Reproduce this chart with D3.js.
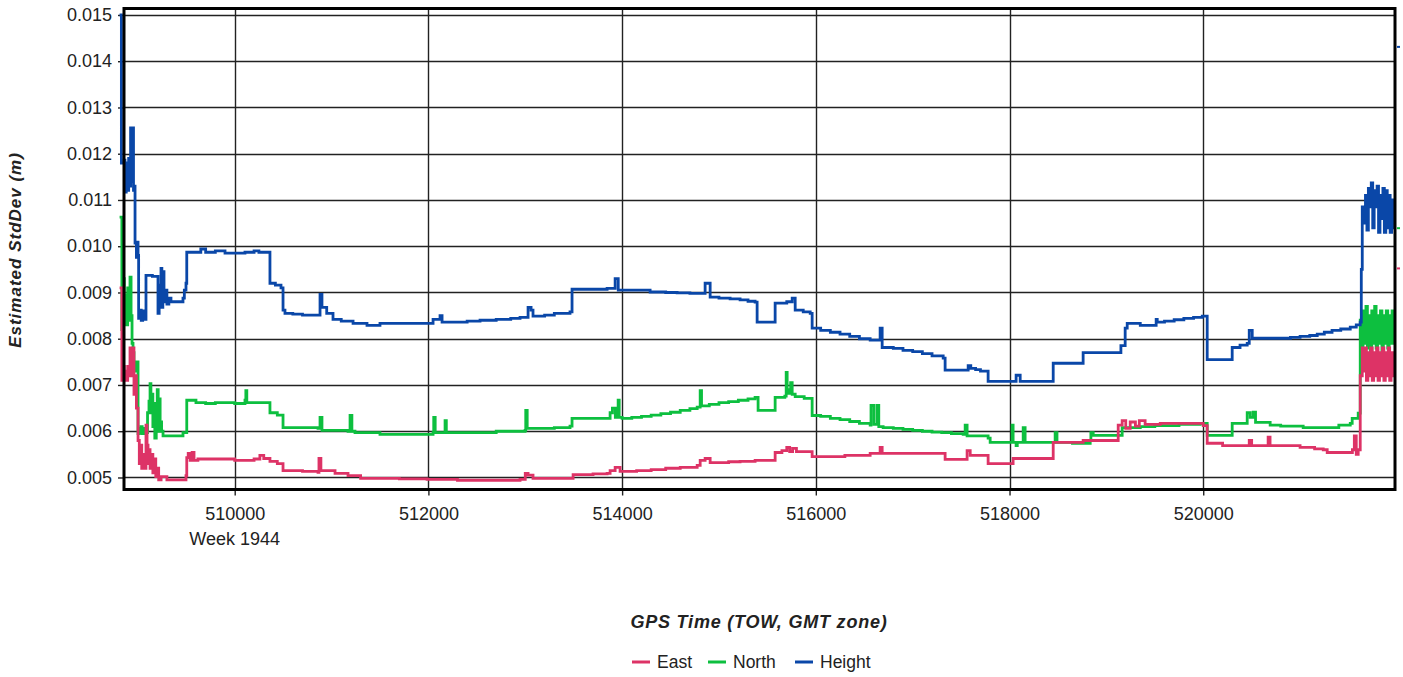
<!DOCTYPE html>
<html>
<head>
<meta charset="utf-8">
<script src="https://cdn.jsdelivr.net/npm/d3@7"></script>
<style>
  body { margin: 0; background: #fff; }
  text { font-family: "Liberation Sans", Arial, sans-serif; fill: #222; }
</style>
</head>
<body>
<svg id="chart" width="1403" height="677"></svg>
<script>
// Tick values
const yTicks = [0.005, 0.006, 0.007, 0.008, 0.009, 0.010, 0.011, 0.012, 0.013, 0.014, 0.015];
const xTicks = [510000, 512000, 514000, 516000, 518000, 520000];
const weekLabel = "Week 1944";
const xTitle = "GPS Time (TOW, GMT zone)";
const yTitle = "Estimated StdDev (m)";

// Estimated standard deviations, [GPS time of week (s), metres]; each value holds until the next epoch
const east = [
  [508826,0.0091],[508835,0.0071],[508850,0.0074],[508860,0.0071],[508870,0.0073],[508880,0.0071],
  [508895,0.0074],[508905,0.0072],[508919,0.0078],[508935,0.0072],[508950,0.0078],[508960,0.0068],
  [508971,0.0072],[508985,0.0065],[509002,0.0058],[509015,0.0053],[509025,0.0057],[509040,0.0052],
  [509055,0.0055],[509075,0.0052],[509084,0.00613],[509095,0.0057],[509105,0.0053],[509115,0.0056],
  [509126,0.0052],[509140,0.0055],[509155,0.0051],[509170,0.0054],[509185,0.00502],[509200,0.0052],
  [509215,0.00495],[509240,0.00502],[509300,0.00495],[509466,0.00495],[509497,0.00504],[509505,0.00543],
  [509520,0.00552],[509540,0.00537],[509560,0.00554],[509580,0.00537],[509620,0.0054],[509800,0.0054],
  [510000,0.00537],[510200,0.0054],[510260,0.00548],[510300,0.00541],[510364,0.00535],[510440,0.0053],
  [510499,0.00515],[510700,0.00513],[510860,0.00511],[510870,0.00541],[510890,0.00515],[511036,0.00509],
  [511170,0.00504],[511300,0.00498],[511700,0.00497],[511986,0.00496],[512300,0.00494],[512946,0.00496],
  [513000,0.00509],[513029,0.00505],[513080,0.00498],[513494,0.00506],[513700,0.00508],[513845,0.00509],
  [513876,0.00515],[513928,0.00522],[513979,0.00513],[514150,0.00515],[514300,0.00517],[514450,0.0052],
  [514600,0.00522],[514775,0.00526],[514806,0.00537],[514857,0.00541],[514909,0.00532],[515100,0.00534],
  [515218,0.00535],[515373,0.00537],[515580,0.00554],[515650,0.00558],[515700,0.00565],[515730,0.00556],
  [515760,0.00563],[515800,0.00556],[515962,0.00545],[516300,0.00548],[516561,0.00552],[516664,0.00565],
  [516685,0.00552],[517335,0.00539],[517562,0.00558],[517594,0.00548],[517779,0.0053],[518037,0.00541],
  [518451,0.00576],[518760,0.0058],[519122,0.00613],[519163,0.00623],[519200,0.00606],[519246,0.0062],
  [519300,0.00611],[519340,0.00623],[519400,0.00615],[519556,0.00617],[520000,0.00612],[520041,0.00574],
  [520200,0.00569],[520475,0.0058],[520500,0.00569],[520670,0.00587],[520690,0.00569],[521000,0.00565],
  [521150,0.00562],[521239,0.0056],[521280,0.00554],[521540,0.0056],[521560,0.0059],[521580,0.0055],
  [521600,0.0056],[521621,0.0072],[521642,0.0078],
  [521655,0.0073],[521670,0.0078],[521685,0.0071],[521700,0.0077],[521715,0.0072],[521730,0.0078],
  [521745,0.0071],[521760,0.0077],[521775,0.0072],[521790,0.0078],[521805,0.0071],[521820,0.0077],
  [521835,0.0072],[521850,0.0078],[521865,0.0071],[521880,0.0077],[521895,0.0072],[521910,0.0078],
  [521925,0.0071],[521940,0.0077],[521962,0.0072],[521975,0.0072]
];

const north = [
  [508826,0.01063],[508835,0.0082],[508850,0.0093],[508860,0.0084],[508870,0.00895],[508880,0.0083],
  [508895,0.0091],[508905,0.0084],[508919,0.00933],[508930,0.0085],[508940,0.0079],[508950,0.0077],
  [508960,0.0075],[508971,0.0073],[508985,0.0075],[509002,0.00595],[509015,0.00606],[509025,0.00597],
  [509033,0.0061],[509045,0.00595],[509060,0.00606],[509084,0.00597],[509100,0.0064],[509115,0.00665],
  [509126,0.00703],[509135,0.0064],[509145,0.0068],[509155,0.0061],[509165,0.0066],[509175,0.00585],
  [509190,0.0064],[509200,0.0069],[509210,0.006],[509220,0.0067],[509230,0.0062],[509245,0.006],
  [509260,0.0059],[509466,0.00597],[509505,0.00667],[509600,0.00662],[509700,0.0066],[509800,0.00662],
  [510000,0.0066],[510106,0.00667],[510115,0.00688],[510125,0.00662],[510364,0.0064],[510440,0.00635],
  [510499,0.00608],[510860,0.00606],[510881,0.0063],[510901,0.00602],[511170,0.006],[511191,0.00634],
  [511210,0.006],[511242,0.00597],[511500,0.00593],[512048,0.00597],[512055,0.0063],[512070,0.00597],
  [512172,0.00623],[512185,0.00597],[512700,0.006],[512998,0.00602],[513005,0.00645],[513020,0.00606],
  [513300,0.00608],[513462,0.00611],[513483,0.00628],[513876,0.0064],[513900,0.0065],[513930,0.0063],
  [513959,0.00667],[513970,0.0063],[514000,0.00628],[514100,0.0063],[514200,0.00632],[514300,0.00635],
  [514400,0.00638],[514500,0.00641],[514600,0.00645],[514700,0.00649],[514775,0.00652],[514806,0.00688],
  [514820,0.00655],[514900,0.00658],[515000,0.00662],[515100,0.00664],[515200,0.00667],[515300,0.0067],
  [515373,0.00673],[515404,0.00645],[515580,0.00673],[515680,0.00676],[515694,0.00727],[515704,0.0069],
  [515720,0.00682],[515740,0.00705],[515756,0.0068],[515787,0.00675],[515880,0.00671],[515962,0.00634],
  [516050,0.00632],[516150,0.00628],[516250,0.00625],[516350,0.00621],[516450,0.00617],[516561,0.00613],
  [516570,0.00656],[516600,0.00615],[516633,0.00656],[516650,0.0061],[516695,0.00608],[516800,0.00606],
  [516900,0.00604],[517000,0.00602],[517100,0.006],[517200,0.00598],[517300,0.00597],[517400,0.00595],
  [517521,0.00593],[517542,0.00613],[517562,0.0059],[517779,0.00585],[517800,0.00576],[518027,0.00613],
  [518037,0.00576],[518068,0.00569],[518080,0.00576],[518141,0.00608],[518161,0.00576],[518471,0.00597],
  [518490,0.00576],[518650,0.00574],[518833,0.0058],[518840,0.00597],[518864,0.00591],[519163,0.00608],
  [519350,0.0061],[519500,0.00612],[519750,0.00615],[519969,0.00617],[520041,0.00591],[520299,0.00617],
  [520454,0.0064],[520485,0.0063],[520516,0.00641],[520540,0.00619],[520691,0.00613],[520800,0.00611],
  [521032,0.00608],[521400,0.00613],[521518,0.00617],[521538,0.00628],[521600,0.00639],[521621,0.0084],
  [521635,0.0078],[521650,0.0086],[521665,0.0079],[521680,0.0087],[521695,0.0078],[521710,0.0085],
  [521725,0.0077],[521740,0.0086],[521755,0.0079],[521770,0.0087],[521785,0.0078],[521800,0.0085],
  [521815,0.0079],[521830,0.0086],[521845,0.0077],[521860,0.0085],[521875,0.0079],[521890,0.0086],
  [521905,0.0078],[521920,0.0085],[521935,0.0079],[521950,0.0086],[521962,0.0079],[521975,0.0079]
];

const heightSd = [
  [508826,0.0150],[508830,0.0118],[508860,0.01186],[508867,0.01117],[508880,0.0118],[508895,0.01121],
  [508905,0.0119],[508915,0.0113],[508925,0.01256],[508935,0.0114],[508945,0.01256],[508955,0.01121],
  [508965,0.0113],[508971,0.01007],[508985,0.00976],[508995,0.01009],[509002,0.0098],[509008,0.00844],
  [509020,0.00862],[509035,0.0084],[509050,0.0086],[509070,0.00842],[509084,0.00937],[509150,0.00935],
  [509208,0.00855],[509220,0.00916],[509230,0.0087],[509239,0.00952],[509248,0.00868],[509258,0.00945],
  [509270,0.0088],[509285,0.00905],[509300,0.00875],[509320,0.00888],[509342,0.0088],[509466,0.00888],
  [509480,0.00905],[509497,0.0092],[509505,0.00987],[509650,0.00994],[509700,0.00987],[509800,0.0099],
  [509900,0.00985],[510106,0.00987],[510200,0.0099],[510250,0.00987],[510364,0.0092],[510420,0.00916],
  [510478,0.0091],[510499,0.00862],[510519,0.00855],[510600,0.00853],[510700,0.00851],[510881,0.00896],
  [510901,0.00868],[510950,0.00855],[511015,0.00842],[511100,0.00838],[511222,0.00833],[511366,0.00829],
  [511500,0.00833],[512048,0.00842],[512120,0.0085],[512141,0.00836],[512400,0.00838],[512533,0.0084],
  [512700,0.00842],[512850,0.00844],[512946,0.00846],[513029,0.00868],[513060,0.00862],[513080,0.00849],
  [513200,0.00851],[513300,0.00855],[513462,0.00858],[513483,0.00907],[513845,0.00909],[513928,0.0093],
  [513960,0.00905],[514289,0.00901],[514450,0.009],[514568,0.00899],[514700,0.00898],[514857,0.0092],
  [514909,0.0089],[515000,0.00888],[515115,0.00886],[515218,0.00884],[515300,0.00881],[515373,0.00879],
  [515394,0.00836],[515580,0.00877],[515700,0.0088],[515756,0.00888],[515787,0.00862],[515870,0.00858],
  [515942,0.00855],[515962,0.00823],[516050,0.00818],[516150,0.00814],[516250,0.0081],[516350,0.00805],
  [516450,0.008],[516561,0.00797],[516664,0.00823],[516685,0.00781],[516800,0.00779],[516900,0.00775],
  [517000,0.00772],[517100,0.00768],[517200,0.00763],[517315,0.00758],[517335,0.00732],[517573,0.00742],
  [517600,0.00736],[517650,0.00733],[517700,0.0073],[517779,0.00708],[518068,0.00721],[518110,0.00708],
  [518451,0.00747],[518760,0.0077],[519150,0.00785],[519194,0.00823],[519215,0.00833],[519350,0.00829],
  [519514,0.00842],[519525,0.00836],[519600,0.00838],[519700,0.00841],[519800,0.00844],[519900,0.00846],
  [519990,0.00849],[520041,0.00755],[520299,0.00781],[520380,0.00786],[520454,0.0079],[520475,0.00818],
  [520506,0.00801],[520900,0.00803],[521000,0.00805],[521100,0.00807],[521177,0.0081],[521250,0.00814],
  [521330,0.00818],[521420,0.00821],[521518,0.00825],[521580,0.0083],[521621,0.00836],[521632,0.0095],
  [521642,0.01085],
  [521660,0.0105],[521675,0.0111],[521690,0.01035],[521705,0.01125],[521720,0.01085],[521735,0.01137],
  [521750,0.0104],[521765,0.0112],[521780,0.01085],[521795,0.0113],[521810,0.0103],[521825,0.0111],
  [521840,0.0106],[521855,0.01125],[521870,0.0103],[521885,0.0112],[521900,0.0104],[521915,0.0111],
  [521930,0.0103],[521945,0.011],[521962,0.0104],[521975,0.0104]
];

// Last-value markers at the right edge of the plot
const endMarks = [0.00952, 0.01039, 0.01431];

const seriesNames = ["East", "North", "Height"];
const seriesColors = ["#dd3366", "#0dbf3f", "#0a47a8"];

const svg = d3.select("#chart");
const plot = { left: 124, right: 1395, top: 8.5, bottom: 489.5 };

const x = d3.scaleLinear().domain([508857, 521980]).range([plot.left, plot.right]);
const y = d3.scaleLinear().domain([0.00474, 0.01514]).range([plot.bottom, plot.top]);

// Grid
const grid = svg.append("g").attr("stroke", "#222").attr("stroke-width", 1.4);
grid.selectAll("line.h").data(yTicks).join("line")
  .attr("x1", plot.left).attr("x2", plot.right)
  .attr("y1", d => Math.round(y(d)) + 0.5).attr("y2", d => Math.round(y(d)) + 0.5);
grid.selectAll("line.v").data(xTicks).join("line")
  .attr("y1", plot.top).attr("y2", plot.bottom)
  .attr("x1", d => Math.round(x(d)) + 0.5).attr("x2", d => Math.round(x(d)) + 0.5);

// Axes
const yAxis = svg.append("g").attr("transform", `translate(${plot.left},0)`)
  .call(d3.axisLeft(y).tickValues(yTicks).tickFormat(d3.format(".3f")).tickSize(6).tickPadding(6).tickSizeOuter(0));
yAxis.select(".domain").remove();
yAxis.selectAll(".tick line").attr("stroke", "#222").attr("stroke-width", 1.4);
yAxis.selectAll(".tick text").attr("font-size", 18).attr("fill", "#222")
  .attr("font-family", '"Liberation Sans", Arial, sans-serif');

const xAxis = svg.append("g").attr("transform", `translate(0,${plot.bottom})`)
  .call(d3.axisBottom(x).tickValues(xTicks).tickFormat(d3.format("d")).tickSize(6).tickPadding(12).tickSizeOuter(0));
xAxis.select(".domain").remove();
xAxis.selectAll(".tick line").attr("stroke", "#222").attr("stroke-width", 1.4);
xAxis.selectAll(".tick text").attr("font-size", 18).attr("fill", "#222")
  .attr("font-family", '"Liberation Sans", Arial, sans-serif');

svg.append("text")
  .attr("x", x(xTicks[0])).attr("y", 545)
  .attr("text-anchor", "middle").attr("font-size", 18)
  .text(weekLabel);

// Series lines, drawn as step traces
const line = d3.line().x(d => x(d[0])).y(d => y(d[1])).curve(d3.curveStepAfter);
const seriesData = [east, north, heightSd];
const drawOrder = [1, 0, 2];
svg.append("g").selectAll("path").data(drawOrder).join("path")
  .attr("d", i => line(seriesData[i]))
  .attr("fill", "none")
  .attr("stroke", i => seriesColors[i])
  .attr("stroke-width", 2.8)
  .attr("stroke-linejoin", "miter")
  .attr("stroke-linecap", "square");

svg.append("g").selectAll("line").data(endMarks).join("line")
  .attr("x1", plot.right + 2).attr("x2", plot.right + 5)
  .attr("y1", d => y(d)).attr("y2", d => y(d))
  .attr("stroke", (d, i) => seriesColors[i]).attr("stroke-width", 2);

// Plot frame
svg.append("rect")
  .attr("x", plot.left).attr("y", plot.top)
  .attr("width", plot.right - plot.left).attr("height", plot.bottom - plot.top)
  .attr("fill", "none").attr("stroke", "#000").attr("stroke-width", 3);

// Axis titles
svg.append("text")
  .attr("x", 759).attr("y", 628)
  .attr("text-anchor", "middle").attr("font-size", 18).attr("letter-spacing", 0.8)
  .attr("font-weight", "bold").attr("font-style", "italic")
  .text(xTitle);

svg.append("text")
  .attr("transform", "translate(21,250) rotate(-90)")
  .attr("text-anchor", "middle").attr("font-size", 17).attr("letter-spacing", 1)
  .attr("font-weight", "bold").attr("font-style", "italic")
  .text(yTitle);

// Legend
const legendX = [632, 708, 795];
const legend = svg.append("g").selectAll("g").data(seriesNames).join("g")
  .attr("transform", (d, i) => `translate(${legendX[i]},662)`);
legend.append("line")
  .attr("x1", 0).attr("x2", 18).attr("y1", 0).attr("y2", 0)
  .attr("stroke", (d, i) => seriesColors[i]).attr("stroke-width", 3);
legend.append("text")
  .attr("x", 25).attr("y", 6).attr("font-size", 17.5)
  .text(d => d);
</script>
</body>
</html>
